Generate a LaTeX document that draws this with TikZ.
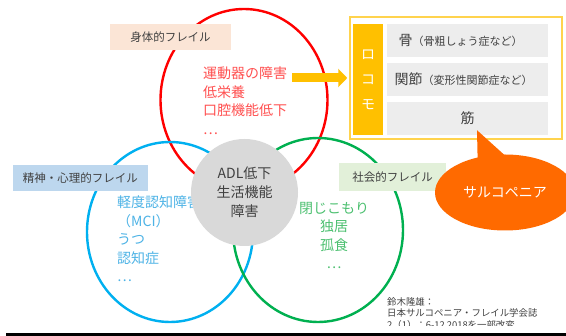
\documentclass[tikz,border=0pt]{standalone}
\usepackage{fontspec}
\setmainfont{Noto Sans CJK JP}
\usetikzlibrary{arrows.meta,shapes.geometric}
\definecolor{cred}{HTML}{FF0000}
\definecolor{cblue}{HTML}{00B0F0}
\definecolor{cgreen}{HTML}{00B050}
\definecolor{tred}{HTML}{FF5050}
\definecolor{tblue}{HTML}{4DB3E6}
\definecolor{tgreen}{HTML}{4CC070}
\definecolor{cgray}{HTML}{D9D9D9}
\definecolor{tdark}{HTML}{404040}
\definecolor{fpeach}{HTML}{FBE5D6}
\definecolor{flblue}{HTML}{BDD7EE}
\definecolor{flgreen}{HTML}{E2F0D9}
\definecolor{cyel}{HTML}{FFC000}
\definecolor{cyelb}{HTML}{FFD34D}
\definecolor{crow}{HTML}{EDEDED}
\definecolor{csarc}{HTML}{FF6A00}
\tikzset{
  ring/.style={ellipse, draw, line width=2.4pt, inner sep=0pt},
  lab/.style={fill=#1, text=tdark, inner sep=0pt, font=\fontsize{11.5}{12}\selectfont},
  listtxt/.style={inner sep=0pt, font=\fontsize{14}{18.5}\selectfont, text=#1},
  rowbox/.style={fill=crow, minimum width=161pt, minimum height=33pt, inner sep=0pt, text=tdark},
}
\newcommand{\smalltxt}[1]{{\fontsize{11}{12}\selectfont #1}}
\begin{document}
\begin{tikzpicture}[x=1pt,y=-1pt]
\useasboundingbox (0,0) rectangle (566,336);
\clip (0,0) rectangle (566,336);
\fill[white] (0,0) rectangle (566,336);
% circles
\node[ring, draw=cred, minimum width=167pt, minimum height=182pt] (rc) at (244,100) {};
\node[ring, draw=cblue, minimum width=166pt, minimum height=180pt] (bc) at (170,232) {};
\node[ring, draw=cgreen, minimum width=170pt, minimum height=184pt] (gc) at (318,230) {};
% list texts
\node[listtxt=tred, align=left, anchor=north west] (redtxt) at (203,67) {運動器の障害\\低栄養\\口腔機能低下\\…};
\node[listtxt=tblue, align=left, anchor=north west] (bluetxt) at (117,196) {軽度認知障害\\（MCI）\\うつ\\認知症\\…};
\node[listtxt=tgreen, align=center, anchor=north] (greentxt) at (334,202) {閉じこもり\\独居\\孤食\\…};
% ADL circle
\node[circle, fill=cgray, minimum size=107pt, inner sep=0pt, align=center, text=tdark,
      font=\fontsize{14}{19}\selectfont] (adl) at (244.5,192.5) {ADL低下\\生活機能\\障害};
% labels
\node[lab=fpeach, minimum width=121pt, minimum height=26pt] (l1) at (170.5,37) {身体的フレイル};
\node[lab=flblue, minimum width=135pt, minimum height=26pt] (l2) at (80.5,178) {精神・心理的フレイル};
\node[lab=flgreen, minimum width=107pt, minimum height=28pt] (l3) at (392.5,177) {社会的フレイル};
% locomo
\node[draw=cyelb, line width=1.5pt, minimum width=212pt, minimum height=122pt, inner sep=0pt] (loco) at (456,78) {};
\node[fill=cyel, minimum width=30pt, minimum height=111pt, inner sep=0pt, text=white, align=center,
      font=\fontsize{14}{25}\selectfont] (bar) at (368,79.5) {ロ\\コ\\モ};
\node[rowbox] (row1) at (467.5,40.5) {};
\node[rowbox] (row2) at (467.5,79.5) {};
\node[rowbox] (row3) at (467.5,118.5) {};
\node[text=tdark, inner sep=0pt, anchor=center] (t1) at ([xshift=-7pt]row1.center) {{\fontsize{14}{16}\selectfont 骨}\smalltxt{（骨粗しょう症など）}};
\node[text=tdark, inner sep=0pt, anchor=center] (t2) at ([xshift=-4pt]row2.center) {{\fontsize{14}{16}\selectfont 関節}\smalltxt{（変形性関節症など）}};
\node[text=tdark, inner sep=0pt, font=\fontsize{14}{16}\selectfont] (t3) at (row3.center) {筋};
% arrow
\coordinate (arrstart) at (292,78);
\draw[cyel, line width=9pt, -{Triangle[length=9pt,width=18pt]}, shorten >=2pt] (arrstart) -- (arrstart -| loco.west);
% sarcopenia callout
\coordinate (tip) at ([xshift=9.5pt,yshift=5pt]row3.south);
\node[ellipse, fill=csarc, minimum width=140pt, minimum height=76pt, inner sep=0pt,
      text=white, font=\fontsize{14}{16}\selectfont] (sarc) at (505,192.5) {サルコペニア};
\fill[csarc] (tip) -- ([xshift=-27pt,yshift=-22pt]sarc.north) -- ([xshift=2pt,yshift=-3pt]sarc.north) -- cycle;
% citation
\begin{scope}
\clip (380,290) rectangle (566,326);
\node[inner sep=0pt, anchor=north west, align=left, text=tdark, font=\fontsize{9.4}{11.5}\selectfont] (cite) at (387,297)
  {鈴木隆雄：\\日本サルコペニア・フレイル学会誌\\2（1）：6-12 2018を一部改変};
\end{scope}
\fill[black] (6,333) rectangle (566,336);
\end{tikzpicture}
\end{document}
